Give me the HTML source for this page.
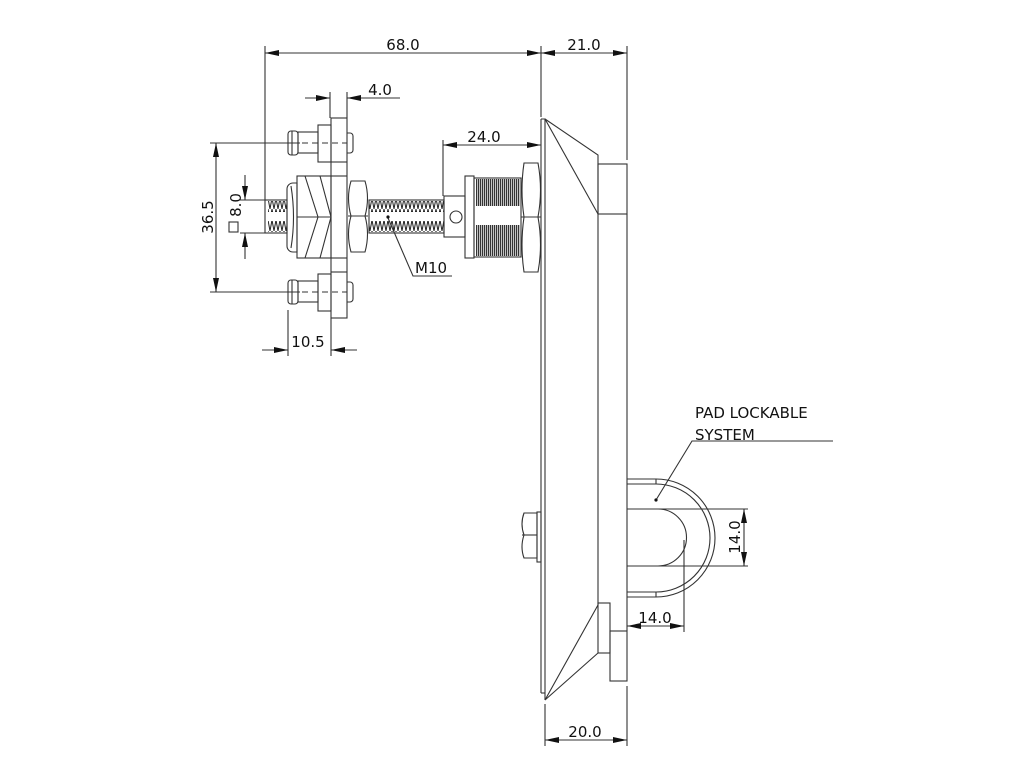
<!DOCTYPE html>
<html><head><meta charset="utf-8"><style>
html,body{margin:0;padding:0;background:#fff}
svg{display:block}
text{font-family:"DejaVu Sans","Liberation Sans",sans-serif;font-size:15px;fill:#111}
</style></head><body>
<svg width="1031" height="773" viewBox="0 0 1031 773" xmlns="http://www.w3.org/2000/svg">
<defs>
<marker id="a" viewBox="0 0 14 6" refX="14" refY="3" markerWidth="14" markerHeight="6" markerUnits="userSpaceOnUse" orient="auto-start-reverse"><path d="M0,0 L14,3 L0,6 Z" fill="#111"/></marker>
<pattern id="th" width="4" height="11" patternUnits="userSpaceOnUse"><path d="M0,0 L2,11 L4,0" fill="none" stroke="#222" stroke-width="1"/></pattern>
<pattern id="dk" width="2" height="4" patternUnits="userSpaceOnUse"><rect width="2" height="4" fill="#fff"/><rect width="1.3" height="4" fill="#333"/></pattern>
</defs>
<g fill="none" stroke="#333" stroke-width="1.1">
<line x1="265" y1="46" x2="265" y2="200"/>
<line x1="541" y1="46" x2="541" y2="117"/>
<line x1="627" y1="46" x2="627" y2="160"/>
<line x1="265" y1="53" x2="541" y2="53" marker-start="url(#a)" marker-end="url(#a)"/>
<line x1="541" y1="53" x2="627" y2="53" marker-start="url(#a)" marker-end="url(#a)"/>
<line x1="330" y1="92" x2="330" y2="118"/>
<line x1="347" y1="92" x2="347" y2="118"/>
<line x1="305" y1="98" x2="330" y2="98" marker-end="url(#a)"/>
<line x1="400" y1="98" x2="347" y2="98" marker-end="url(#a)"/>
<line x1="443" y1="140" x2="443" y2="196"/>
<line x1="443" y1="145" x2="541" y2="145" marker-start="url(#a)" marker-end="url(#a)"/>
<line x1="210" y1="143" x2="300" y2="143"/>
<line x1="210" y1="292" x2="300" y2="292"/>
<line x1="216" y1="143" x2="216" y2="292" marker-start="url(#a)" marker-end="url(#a)"/>
<line x1="240" y1="200" x2="265" y2="200"/>
<line x1="240" y1="233" x2="265" y2="233"/>
<line x1="245" y1="175" x2="245" y2="200" marker-end="url(#a)"/>
<line x1="245" y1="259" x2="245" y2="233" marker-end="url(#a)"/>
<rect x="229" y="222" width="9" height="10"/>
<line x1="288" y1="310" x2="288" y2="356"/>
<line x1="331" y1="318" x2="331" y2="356"/>
<line x1="262" y1="350" x2="288" y2="350" marker-end="url(#a)"/>
<line x1="357" y1="350" x2="331" y2="350" marker-end="url(#a)"/>
<polyline points="388,218 413,276 452,276"/>
<g id="stud">
<rect x="288" y="131" width="10" height="24" rx="3"/>
<line x1="292" y1="131" x2="292" y2="155"/>
<rect x="298" y="132" width="20" height="21"/>
<rect x="318" y="125" width="13" height="37"/>
<path d="M347,133 h3 a3,3 0 0 1 3,3 v14 a3,3 0 0 1 -3,3 h-3"/>
<line x1="292" y1="143" x2="347" y2="143" stroke-dasharray="6,4"/>
</g>
<use href="#stud" transform="translate(0,149)"/>
<rect x="331" y="118" width="16" height="200"/>
<line x1="331" y1="162" x2="347" y2="162"/>
<line x1="331" y1="176" x2="347" y2="176"/>
<line x1="331" y1="258" x2="347" y2="258"/>
<line x1="331" y1="272" x2="347" y2="272"/>
<rect x="265" y="200" width="22" height="33"/>
<rect x="268" y="201" width="19" height="11" fill="url(#th)" stroke="none"/>
<rect x="268" y="221" width="19" height="11" fill="url(#th)" stroke="none"/>
<path d="M297,183 h-4 a6,6 0 0 0 -6,6 v57 a6,6 0 0 0 6,6 h4 Z"/>
<path d="M291,186 q5,31 0,62"/>
<rect x="297" y="176" width="34" height="82"/>
<path d="M305,176 L318,217 L305,258"/>
<path d="M320,176 L331,217 L320,258"/>
<line x1="297" y1="217" x2="331" y2="217"/>
<path d="M351,181 h14 q5,17 0,35 q5,18 0,36 h-14 q-5,-18 0,-36 q-5,-18 0,-35 Z"/>
<line x1="348" y1="216" x2="368" y2="216"/>
<rect x="369" y="200" width="75" height="33"/>
<rect x="369" y="201" width="75" height="11" fill="url(#th)" stroke="none"/>
<rect x="369" y="221" width="75" height="11" fill="url(#th)" stroke="none"/>
<rect x="444" y="196" width="21" height="41"/>
<circle cx="456" cy="217" r="6"/>
<rect x="465" y="176" width="9" height="82"/>
<rect x="474" y="178" width="47" height="79"/>
<rect x="476" y="179" width="44" height="27" fill="url(#dk)" stroke="none"/>
<rect x="476" y="225" width="44" height="31" fill="url(#dk)" stroke="none"/>
<path d="M524,163 h14 q5,27 0,54 q5,28 0,55 h-14 q-4,-27 0,-55 q-4,-27 0,-54 Z"/>
<line x1="521" y1="217" x2="541" y2="217"/>
<line x1="541" y1="119" x2="541" y2="693"/>
<polyline points="541,119 545,119 545,700"/>
<line x1="541" y1="693" x2="545" y2="693"/>
<polyline points="545,119 598,155 598,605 545,700"/>
<line x1="545" y1="119" x2="598" y2="214"/>
<line x1="545" y1="700" x2="598" y2="653"/>
<rect x="598" y="164" width="29" height="50"/>
<line x1="627" y1="214" x2="627" y2="631"/>
<rect x="598" y="603" width="12" height="50"/>
<rect x="610" y="631" width="17" height="50"/>
<rect x="537" y="512" width="4" height="50"/>
<path d="M537,513 h-13 q-4,11 0,22 q-4,12 0,23 h13 Z"/>
<line x1="522" y1="535" x2="537" y2="535"/>
<path d="M627,479 h29 a59,59 0 0 1 0,118 h-29"/>
<path d="M627,484 h29 a54,54 0 0 1 0,108 h-29"/>
<line x1="656" y1="479" x2="656" y2="484"/>
<line x1="656" y1="592" x2="656" y2="597"/>
<path d="M627,509 h31 a28.5,28.5 0 0 1 0,57 h-31"/>
<line x1="658" y1="509" x2="748" y2="509"/>
<line x1="658" y1="566" x2="748" y2="566"/>
<line x1="744" y1="509" x2="744" y2="566" marker-start="url(#a)" marker-end="url(#a)"/>
<line x1="684" y1="540" x2="684" y2="632"/>
<line x1="627" y1="626" x2="684" y2="626" marker-start="url(#a)" marker-end="url(#a)"/>
<polyline points="656,500 692,441 833,441"/>
<line x1="545" y1="704" x2="545" y2="746"/>
<line x1="627" y1="686" x2="627" y2="746"/>
<line x1="545" y1="740" x2="627" y2="740" marker-start="url(#a)" marker-end="url(#a)"/>
</g>
<circle cx="388" cy="217" r="1.6" fill="#111"/>
<circle cx="656" cy="500" r="1.6" fill="#111"/>
<text x="403" y="50" text-anchor="middle">68.0</text>
<text x="584" y="50" text-anchor="middle">21.0</text>
<text x="380" y="95" text-anchor="middle">4.0</text>
<text x="484" y="142" text-anchor="middle">24.0</text>
<text x="308" y="347" text-anchor="middle">10.5</text>
<text x="415" y="273">M10</text>
<text x="585" y="737" text-anchor="middle">20.0</text>
<text x="655" y="623" text-anchor="middle">14.0</text>
<text x="695" y="418">PAD LOCKABLE</text>
<text x="695" y="440">SYSTEM</text>
<text transform="translate(213,217) rotate(-90)" text-anchor="middle">36.5</text>
<text transform="translate(241,205) rotate(-90)" text-anchor="middle">8.0</text>
<text transform="translate(740,537) rotate(-90)" text-anchor="middle">14.0</text>
</svg>
</body></html>
